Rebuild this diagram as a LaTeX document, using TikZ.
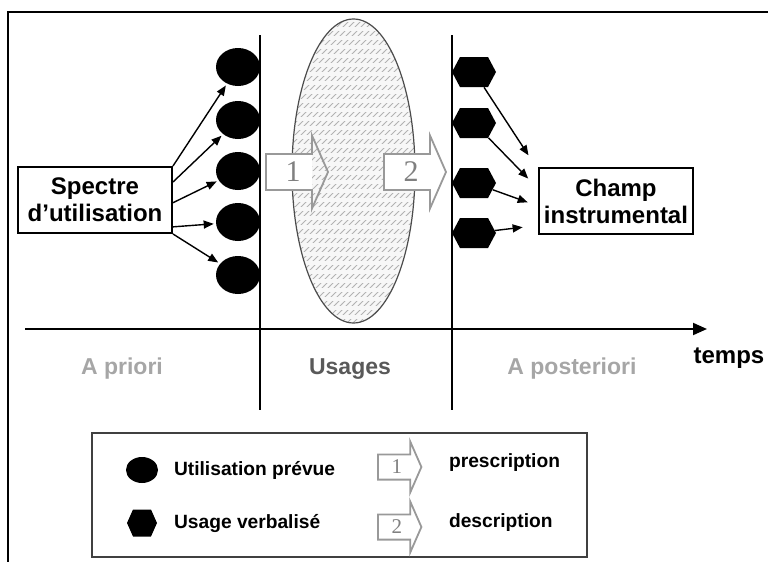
\documentclass[tikz,border=0pt]{standalone}
\usepackage{fontspec}
\setmainfont{Liberation Sans}
\newfontfamily\digitfont{Liberation Serif}
\usetikzlibrary{arrows.meta,shapes.geometric,shapes.symbols,patterns}
\begin{document}
\begin{tikzpicture}[x=0.5pt,y=-0.5pt,
    namebox/.style={draw,line width=1pt,minimum width=77pt,minimum height=33pt,inner sep=1pt,align=center,
      font=\bfseries\fontsize{12}{13.5}\selectfont},
    prevue/.style={ellipse,fill=black,inner sep=0,minimum width=22pt,minimum height=19pt},
    verbal/.style={signal,signal to=east and west,signal pointer angle=124,fill=black,inner sep=0,
      minimum width=22pt,minimum height=15pt},
    link/.style={-{Triangle[length=5pt,width=4pt]},line width=0.7pt,shorten >=1pt},
    phase/.style={anchor=base,font=\bfseries\fontsize{11.5}{12}\selectfont},
    legendtext/.style={anchor=west,font=\bfseries\fontsize{9.6}{11}\selectfont},
    hatchrow/.style={pattern=north east lines,pattern color=black!30},
    pics/barrow/.style={code={
      \fill[white] (0,-18) rectangle (46,18);
      \draw[black!40,line width=0.9pt] (0,-18) -- (46,-18) -- (46,-36.5) -- (62,0) -- (46,36.5) -- (46,18) -- (0,18) -- cycle;
      \node[transform shape,text=black!50,font=\digitfont\fontsize{15}{15}\selectfont] (d) at (27,0) {#1};}}]
  \useasboundingbox (0,0) rectangle (768,562);
  \draw[line width=1pt] (8,562) -- (8,12) -- (768,12);

  \begin{scope}
    \clip (353.5,171) ellipse [x radius=61.5,y radius=152];
    \fill[black!3] (290,15) rectangle (420,330);
    \foreach \y in {22,31,...,322}
      \fill[hatchrow] (292,\y) rectangle (416,\y+4);
  \end{scope}
  \draw[black!70,line width=0.6pt] (353.5,171) ellipse [x radius=61.5,y radius=152];

  \pic (p1) at (266,172) {barrow=1};
  \pic (p2) at (384,172) {barrow=2};

  \draw[line width=1pt] (260,35) -- (260,410) (452,35) -- (452,410);
  \draw[line width=1pt,-{Triangle[length=7pt,width=6pt]}] (25,329) -- (707,329);

  \node[namebox] (sp) at (95,200) {Spectre\\d’utilisation};
  \node[namebox,line width=1.4pt] (ch) at (616,201) {Champ\\instrumental};
  \foreach \n/\y in {1/67,2/120,3/171,4/222,5/275}
    \node[prevue] (u\n) at (238,\y) {};
  \foreach \n/\y in {1/72,2/123,3/183,4/233}
    \node[verbal] (h\n) at (474,\y) {};

  \draw[link] (sp.north east) -- (u1);
  \draw[link] (sp.13) -- (u2);
  \draw[link] (sp.-2) -- (u3);
  \draw[link] (sp.-19) -- (u4);
  \draw[link] (sp.south east) -- (u5);

  \draw[link] (h1) -- ([shift={(-4pt,22pt)}]ch.west);
  \draw[link] (h2) -- ([shift={(-4pt,10.5pt)}]ch.west);
  \draw[link] (h3) -- ([shift={(-4pt,-1pt)}]ch.west);
  \draw[link] (h4) -- ([shift={(-6.5pt,-13pt)}]ch.west);

  \node[phase,text=black!35] (ap) at (122,374) {A priori};
  \node[phase,text=black!65] (us) at (350,374) {Usages};
  \node[phase,text=black!35] (po) at (572,374) {A posteriori};
  \node[anchor=base,font=\bfseries\fontsize{12}{12}\selectfont] (tp) at (729,364) {temps};

  \draw[black!75,line width=0.8pt] (92,433) rectangle (587,557);
  \node[prevue,minimum width=16pt,minimum height=13pt] (lu) at (142,470) {};
  \node[verbal,minimum width=15pt,minimum height=13.5pt,signal pointer angle=132] (lv) at (142,523) {};
  \node[legendtext] (lut) at (167,470) {Utilisation prévue};
  \node[legendtext] (lvt) at (167,523) {Usage verbalisé};
  \pic[scale=0.7] (q1) at (378,467) {barrow=1};
  \pic[scale=0.7] (q2) at (378,527) {barrow=2};
  \node[legendtext] (lp) at (442,463) {prescription};
  \node[legendtext] (ld) at (442,523) {description};
\end{tikzpicture}
\end{document}
